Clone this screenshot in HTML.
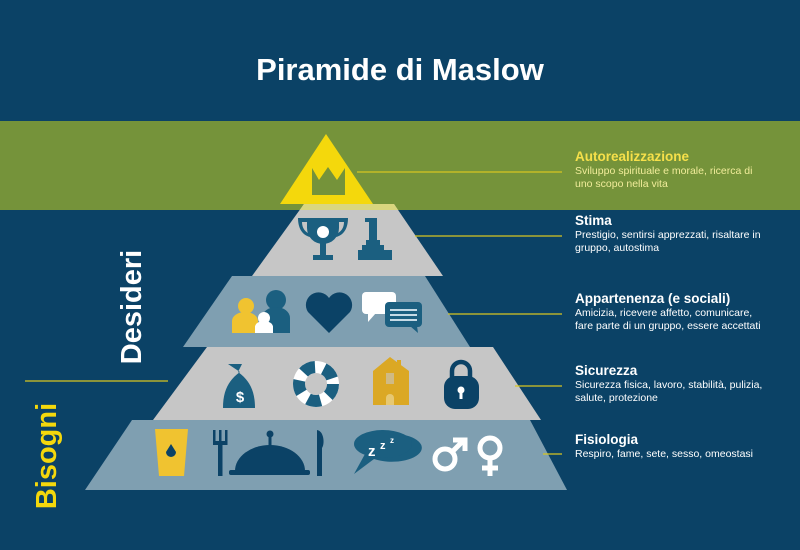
<!DOCTYPE html>
<html><head><meta charset="utf-8"><style>
html,body{margin:0;padding:0}
body{width:800px;height:550px;overflow:hidden;background:#0b4266;font-family:"Liberation Sans",sans-serif;position:relative}
.t{position:absolute;left:575px;color:#fff;font-size:10.5px;line-height:13px}
.t b{display:block;font-size:13.5px;line-height:17px}
</style></head><body>
<svg width="800" height="550" style="position:absolute;left:0;top:0">
<rect x="0" y="121" width="800" height="89" fill="#75933a"/>
<text x="400" y="80" text-anchor="middle" fill="#fff" font-family="Liberation Sans" font-weight="bold" font-size="31">Piramide di Maslow</text>
<!-- layers -->
<polygon points="85,490 567,490 530,420 132,420" fill="#7f9fb1"/>
<polygon points="153,420 541,420 493,347 207,347" fill="#c6c6c6"/>
<polygon points="183,347 470,347 425,276 232,276" fill="#7f9fb1"/>
<polygon points="252,276 443,276 394,204 304,204" fill="#c6c6c6"/>
<polygon points="304,204 394,204 398,210 300,210" fill="#d9d67e"/>
<polygon points="326,134 373,204 280,204" fill="#f4d80c"/>
<!-- crown -->
<polygon points="312,168 319,180 328,167 337,180 345,168 345,195 312,195" fill="#75933a"/>
<!-- lines -->
<g stroke="#d8c520" stroke-width="1.3">
<line x1="357" y1="172" x2="562" y2="172"/>
<line x1="415" y1="236" x2="562" y2="236"/>
<line x1="448" y1="314" x2="562" y2="314"/>
<line x1="515" y1="386" x2="562" y2="386"/>
<line x1="543" y1="454" x2="562" y2="454"/>
<line x1="25" y1="381" x2="168" y2="381"/>
</g>
<!-- stima icons -->
<path d="M298,218 h10 v4 h-6 c0,6 3,10 8,12 l0,3 c-8,-2 -12,-9 -12,-19z M348,218 h-10 v4 h6 c0,6 -3,10 -8,12 l0,3 c8,-2 12,-9 12,-19z" fill="#1b5f80"/>
<path d="M307,218 h32 v10 a16,16 0 0 1 -32,0z" fill="#1b5f80"/>
<circle cx="323" cy="232" r="6" fill="#fff"/>
<rect x="320" y="243" width="6" height="13" fill="#1b5f80"/><rect x="313" y="255" width="20" height="5" fill="#1b5f80"/>
<rect x="369" y="218" width="8" height="23" fill="#1b5f80"/><rect x="365" y="218" width="6" height="4" fill="#1b5f80"/>
<rect x="366" y="240" width="14" height="6" fill="#1b5f80"/><rect x="362" y="245" width="22" height="6" fill="#1b5f80"/><rect x="358" y="250" width="34" height="10" fill="#1b5f80"/>
<!-- appartenenza icons -->
<circle cx="276" cy="300" r="10" fill="#1b5f80"/><path d="M262,333 v-15 a14,11 0 0 1 28,0 v15z" fill="#1b5f80"/>
<circle cx="246" cy="306" r="8" fill="#f0c330"/><path d="M232,333 v-12 a13,9 0 0 1 26,0 v12z" fill="#f0c330"/>
<circle cx="264" cy="318" r="6" fill="#fff"/><path d="M255,333 v-6 a9,6 0 0 1 18,0 v6z" fill="#fff"/>
<path d="M329,333 L308,312 a11,11 0 0 1 21,-14 a11,11 0 0 1 21,14z" fill="#0b4266"/>
<rect x="362" y="292" width="34" height="22" rx="4" fill="#fff"/><polygon points="368,313 368,322 376,313" fill="#fff"/>
<rect x="385" y="302" width="37" height="25" rx="4" fill="#1b5f80"/><polygon points="410,326 418,333 417,326" fill="#1b5f80"/>
<g stroke="#c6dbe6" stroke-width="2"><line x1="390" y1="310" x2="417" y2="310"/><line x1="390" y1="315" x2="417" y2="315"/><line x1="390" y1="320" x2="417" y2="320"/></g>
<!-- sicurezza icons -->
<path d="M228,364 h14 l-4,8 c11,8 17,18 17,36 h-32 c0,-18 6,-28 17,-36z" fill="#1b5f80"/>
<text x="240" y="402" text-anchor="middle" fill="#fff" font-weight="bold" font-size="15" font-family="Liberation Sans">$</text>
<circle cx="316" cy="384" r="23" fill="#fff"/><circle cx="316" cy="384" r="11" fill="#c6c6c6"/>
<g stroke="#1b5f80" stroke-width="12" fill="none" stroke-dasharray="13 9"><circle cx="316" cy="384" r="17"/></g>
<path d="M373,405 v-34 l17,-14 l19,14 v34z" fill="#dba824"/>
<rect x="397" y="360" width="4" height="8" fill="#dba824"/>
<rect x="386" y="373" width="8" height="11" fill="#c6c6c6" opacity=".6"/><path d="M386,405 v-7 a4,4 0 0 1 8,0 v7z" fill="#e6c873"/>
<path d="M452,378 v-7 a9,9 0 0 1 18,0 v7" stroke="#0b4266" stroke-width="4.5" fill="none"/>
<rect x="444" y="376" width="35" height="33" rx="11" fill="#0b4266"/>
<circle cx="461" cy="390" r="3.5" fill="#fff"/><rect x="459.5" y="391" width="3" height="8" fill="#fff"/>
<!-- fisiologia icons -->
<polygon points="155,429 188,429 184,476 159,476" fill="#f0c330"/>
<path d="M171,444 l5,8 a5,5 0 1 1 -10,0z" fill="#0b4266"/>
<g fill="#0b4266">
<rect x="213" y="430" width="2.5" height="13"/><rect x="219" y="430" width="2.5" height="13"/><rect x="225" y="430" width="2.5" height="13"/>
<rect x="213" y="441" width="14.5" height="4"/><rect x="218" y="444" width="4.5" height="32"/>
<path d="M235,471 a35,26 0 0 1 70,0z"/><rect x="229" y="470" width="81" height="5" rx="2"/><circle cx="270" cy="434" r="3.5"/><rect x="268.5" y="436" width="3" height="10"/>
<path d="M317,430 c7,1 8,14 5,18 v28 h-5z"/>
<path d="M365,454 l-11,20 l20,-15 a30,14 0 1 0 -9,-5z" fill="#1b5f80"/>
<ellipse cx="383" cy="444" rx="29" ry="14" fill="#1b5f80"/>
</g>
<text x="368" y="456" fill="#fff" font-weight="bold" font-size="15" font-family="Liberation Sans">z</text>
<text x="380" y="449" fill="#fff" font-weight="bold" font-size="11" font-family="Liberation Sans">z</text>
<text x="390" y="443" fill="#fff" font-weight="bold" font-size="8" font-family="Liberation Sans">z</text>
<g stroke="#fff" stroke-width="5" fill="none">
<circle cx="445" cy="459" r="10"/><line x1="452" y1="452" x2="464" y2="440"/><polyline points="453,440 465,440 465,451"/>
<circle cx="490" cy="448" r="10"/><line x1="490" y1="458" x2="490" y2="476"/><line x1="482" y1="468" x2="498" y2="468"/>
</g>
<text transform="translate(141,307) rotate(-90)" text-anchor="middle" fill="#fff" font-weight="bold" font-size="29" font-family="Liberation Sans">Desideri</text>
<text transform="translate(56,456) rotate(-90)" text-anchor="middle" fill="#f4d80c" font-weight="bold" font-size="29" font-family="Liberation Sans">Bisogni</text>
</svg>
<div class="t" style="top:148px;color:#f1ec9a"><b style="color:#f6e04a">Autorealizzazione</b>Sviluppo spirituale e morale, ricerca di<br>uno scopo nella vita</div>
<div class="t" style="top:212px"><b>Stima</b>Prestigio, sentirsi apprezzati, risaltare in<br>gruppo, autostima</div>
<div class="t" style="top:290px"><b>Appartenenza (e sociali)</b>Amicizia, ricevere affetto, comunicare,<br>fare parte di un gruppo, essere accettati</div>
<div class="t" style="top:362px"><b>Sicurezza</b>Sicurezza fisica, lavoro, stabilità, pulizia,<br>salute, protezione</div>
<div class="t" style="top:431px"><b>Fisiologia</b>Respiro, fame, sete, sesso, omeostasi</div>
</body></html>
